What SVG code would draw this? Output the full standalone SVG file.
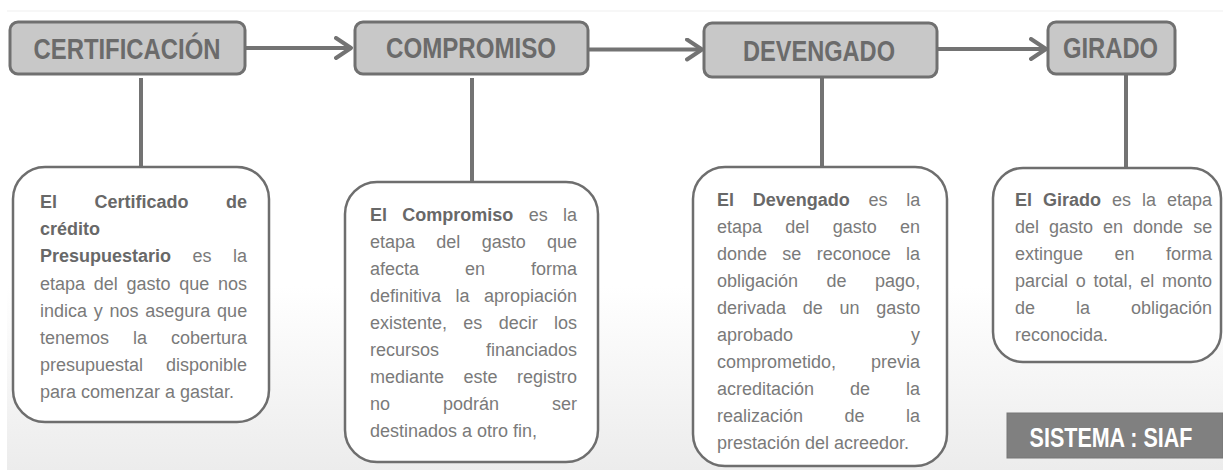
<svg xmlns="http://www.w3.org/2000/svg" width="1223" height="470" viewBox="0 0 1223 470">
<defs>
<linearGradient id="bg" x1="0" y1="0" x2="0" y2="1">
<stop offset="0" stop-color="#ffffff"/>
<stop offset="0.6" stop-color="#ffffff"/>
<stop offset="1" stop-color="#ececec"/>
</linearGradient>
<marker id="chev" viewBox="0 0 20 24" markerWidth="20" markerHeight="24" refX="17" refY="12" orient="auto" markerUnits="userSpaceOnUse">
<path d="M2,2 L17,12 L2,22" fill="none" stroke="#737373" stroke-width="4" stroke-linecap="round" stroke-linejoin="round"/>
</marker>
</defs>
<style>
.stage{fill:#c8c8c8;stroke:#707070;stroke-width:3}
.lbl{font-family:"Liberation Sans",Arial,sans-serif;font-weight:bold;font-size:29px;fill:#6b6b6b;text-anchor:middle}
.card{fill:#ffffff;stroke:#6e6e6e;stroke-width:2.5}
.t{font-family:"Liberation Sans",Arial,sans-serif;font-size:18px;fill:#7a7a7a}
.b{font-weight:bold;fill:#686868}
.conn{stroke:#737373;stroke-width:4;fill:none}
.siaf{fill:#808080;stroke:#767676;stroke-width:1}
.siaft{font-family:"Liberation Sans",Arial,sans-serif;font-weight:bold;font-size:21.5px;fill:#ffffff;text-anchor:middle}
</style>
<rect x="0" y="0" width="1223" height="470" fill="#ffffff"/>
<rect x="7" y="11" width="1216" height="459" fill="url(#bg)"/>
<line x1="7" y1="11" x2="1223" y2="11" stroke="#efefef" stroke-width="1"/>

<g id="connectors">
<line class="conn" x1="246" y1="48" x2="351" y2="48" marker-end="url(#chev)"/>
<line class="conn" x1="589" y1="49.5" x2="702" y2="49.5" marker-end="url(#chev)"/>
<line class="conn" x1="938" y1="49" x2="1046" y2="49" marker-end="url(#chev)"/>
<line class="conn" x1="141" y1="78" x2="141" y2="168"/>
<line class="conn" x1="472" y1="78" x2="472" y2="183"/>
<line class="conn" x1="822" y1="78" x2="822" y2="168"/>
<line class="conn" x1="1126" y1="75" x2="1126" y2="169"/>
</g>

<g id="certificacion">
<rect class="stage" x="10" y="22" width="235" height="52" rx="8"/>
<text class="lbl" x="127" y="59" textLength="187" lengthAdjust="spacingAndGlyphs">CERTIFICACIÓN</text>
</g>
<g id="compromiso">
<rect class="stage" x="355" y="22" width="233" height="52" rx="8"/>
<text class="lbl" x="471" y="58" textLength="170" lengthAdjust="spacingAndGlyphs">COMPROMISO</text>
</g>
<g id="devengado">
<rect class="stage" x="704" y="23" width="233" height="54" rx="8"/>
<text class="lbl" x="819" y="61" textLength="152" lengthAdjust="spacingAndGlyphs">DEVENGADO</text>
</g>
<g id="girado">
<rect class="stage" x="1048" y="22" width="127" height="52" rx="8"/>
<text class="lbl" x="1110.5" y="58" textLength="95" lengthAdjust="spacingAndGlyphs">GIRADO</text>
</g>

<g id="desc-certificacion">
<rect class="card" x="13" y="167" width="256" height="255" rx="32"/>
<text class="t" x="40" y="208" word-spacing="32.5"><tspan class="b">El Certificado de</tspan></text>
<text class="t" x="40" y="235"><tspan class="b">crédito</tspan></text>
<text class="t" x="40" y="262" word-spacing="16.5"><tspan class="b">Presupuestario</tspan> es la</text>
<text class="t" x="40" y="290" word-spacing="3.7">etapa del gasto que nos</text>
<text class="t" x="40" y="317" word-spacing="1.75">indica y nos asegura que</text>
<text class="t" x="40" y="344" word-spacing="19">tenemos la cobertura</text>
<text class="t" x="40" y="371" word-spacing="17.9">presupuestal disponible</text>
<text class="t" x="40" y="398">para comenzar a gastar.</text>
</g>

<g id="desc-compromiso">
<rect class="card" x="345" y="182" width="253" height="280" rx="32"/>
<text class="t" x="370" y="221" word-spacing="10.3"><tspan class="b">El Compromiso</tspan> es la</text>
<text class="t" x="370" y="248" word-spacing="16.3">etapa del gasto que</text>
<text class="t" x="370" y="275" word-spacing="41">afecta en forma</text>
<text class="t" x="370" y="302" word-spacing="9.5">definitiva la apropiación</text>
<text class="t" x="370" y="329" word-spacing="11.3">existente, es decir los</text>
<text class="t" x="370" y="356" word-spacing="42">recursos financiados</text>
<text class="t" x="370" y="383" word-spacing="14.5">mediante este registro</text>
<text class="t" x="370" y="410" word-spacing="48">no podrán ser</text>
<text class="t" x="370" y="437">destinados a otro fin,</text>
</g>

<g id="desc-devengado">
<rect class="card" x="693" y="167" width="254" height="299" rx="32"/>
<text class="t" x="717" y="206" word-spacing="13.7"><tspan class="b">El Devengado</tspan> es la</text>
<text class="t" x="717" y="233" word-spacing="18.3">etapa del gasto en</text>
<text class="t" x="717" y="260" word-spacing="10.3">donde se reconoce la</text>
<text class="t" x="717" y="287" word-spacing="23.5">obligación de pago,</text>
<text class="t" x="717" y="314" word-spacing="11.7">derivada de un gasto</text>
<text class="t" x="717" y="341" word-spacing="113">aprobado y</text>
<text class="t" x="717" y="368" word-spacing="30">comprometido, previa</text>
<text class="t" x="717" y="395" word-spacing="31">acreditación de la</text>
<text class="t" x="717" y="422" word-spacing="36.5">realización de la</text>
<text class="t" x="717" y="449">prestación del acreedor.</text>
</g>

<g id="desc-girado">
<rect class="card" x="993" y="168" width="228" height="194" rx="30"/>
<text class="t" x="1015" y="206" word-spacing="6"><tspan class="b">El Girado</tspan> es la etapa</text>
<text class="t" x="1015" y="233" word-spacing="5">del gasto en donde se</text>
<text class="t" x="1015" y="260" word-spacing="26.5">extingue en forma</text>
<text class="t" x="1015" y="287" word-spacing="2.75">parcial o total, el monto</text>
<text class="t" x="1015" y="314" word-spacing="36">de la obligación</text>
<text class="t" x="1015" y="341">reconocida.</text>
</g>

<g id="sistema-siaf">
<rect class="siaf" x="1007" y="413" width="216" height="45"/>
<text class="siaft" transform="translate(1111,447) scale(1,1.3)" x="0" y="0">SISTEMA : SIAF</text>
</g>
</svg>
